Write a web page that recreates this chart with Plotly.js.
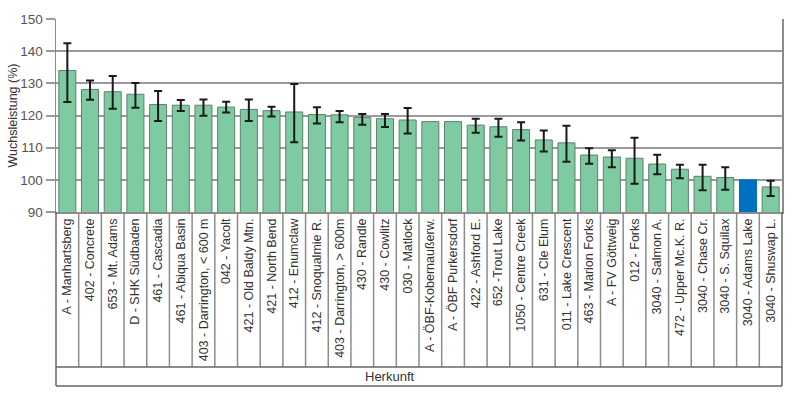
<!DOCTYPE html>
<html>
<head>
<meta charset="utf-8">
<script src="https://cdn.plot.ly/plotly-3.0.1.min.js"></script>
<style>html,body{margin:0;padding:0;background:#fff;}#chart{width:800px;height:398px;}</style>
</head>
<body>
<div id="chart"></div>
<script>
const categories = [
  "A - Manhartsberg", "402 - Concrete", "653 - Mt. Adams", "D - SHK Südbaden",
  "461 - Cascadia", "461 - Abiqua Basin", "403 - Darrington, < 600 m", "042 - Yacolt",
  "421 - Old Baldy Mtn.", "421 - North Bend", "412 - Enumclaw", "412 - Snoqualmie R.",
  "403 - Darrington, > 600m", "430 - Randle", "430 - Cowlitz", "030 - Matlock",
  "A - ÖBF-Kobernaußerw.", "A - ÖBF Purkersdorf", "422 - Ashford E.", "652 -Trout Lake",
  "1050 - Centre Creek", "631 - Cle Elum", "011 - Lake Crescent", "463 - Marion Forks",
  "A - FV Göttweig", "012 - Forks", "3040 - Salmon A.", "472 - Upper Mc.K. R.",
  "3040 - Chase Cr.", "3040 - S. Squilax", "3040 - Adams Lake", "3040 - Shuswap L."
];
const growth = [
  134.0, 128.1, 127.4, 126.6, 123.4, 123.2, 123.2, 122.6,
  121.9, 121.5, 121.1, 120.3, 120.2, 119.4, 119.0, 118.6,
  118.1, 118.1, 117.0, 116.5, 115.6, 112.4, 111.5, 107.7,
  107.1, 106.7, 104.9, 103.3, 101.1, 100.7, 100.0, 97.8
];
// NaN = no error bar shown for that origin
const errPlus = [
  8.5, 2.8, 4.9, 3.5, 4.2, 1.6, 1.8, 1.7,
  3.1, 1.2, 8.7, 2.3, 1.2, 1.1, 1.5, 3.7,
  NaN, NaN, 2.0, 2.5, 2.3, 2.9, 5.3, 2.1,
  2.1, 6.4, 2.9, 1.4, 3.6, 3.2, NaN, 1.9
];
const errMinus = [
  9.8, 3.2, 5.3, 4.2, 5.1, 1.8, 3.3, 1.7,
  3.6, 1.8, 9.4, 2.8, 2.3, 2.3, 2.6, 4.2,
  NaN, NaN, 2.4, 3.1, 3.4, 3.6, 5.9, 2.7,
  3.2, 7.9, 3.2, 2.8, 4.3, 3.8, NaN, 2.8
];
const referenceOrigin = "3040 - Adams Lake";

const GREEN = "#7ecba1", BLUE = "#0070c0";
const barColors = categories.map(c => c === referenceOrigin ? BLUE : GREEN);
const lineColors = categories.map(c => c === referenceOrigin ? BLUE : "#5f7f6f");

const trace = {
  type: "bar",
  x: categories,
  y: growth,
  marker: { color: barColors, line: { color: lineColors, width: 1 } },
  error_y: {
    type: "data", symmetric: false,
    array: errPlus, arrayminus: errMinus,
    color: "#1a1a1a", thickness: 2, width: 4
  },
  hoverinfo: "x+y"
};

const W = 800, H = 398, mL = 56, mR = 18, mT = 19, mB = 186;
const plotH = H - mT - mB;
const yTableBottom = -(367 - (H - mB)) / plotH;
const yBoxBottom = -(386 - (H - mB)) / plotH;
const n = categories.length;

const shapes = [];
for (let i = 0; i <= n; i++) {
  shapes.push({ type: "line", xref: "paper", yref: "paper", x0: i / n, x1: i / n, y0: 0, y1: yTableBottom,
    line: { color: (i === 0 || i === n) ? "#666" : "#8c8c8c", width: 1.5 } });
}
shapes.push({ type: "line", xref: "paper", yref: "paper", x0: 0, x1: 1, y0: yTableBottom, y1: yTableBottom, line: { color: "#666", width: 1.5 } });
shapes.push({ type: "line", xref: "paper", yref: "paper", x0: 0, x1: 0, y0: yTableBottom, y1: yBoxBottom, line: { color: "#666", width: 1.5 } });
shapes.push({ type: "line", xref: "paper", yref: "paper", x0: 1, x1: 1, y0: yTableBottom, y1: yBoxBottom, line: { color: "#666", width: 1.5 } });
shapes.push({ type: "line", xref: "paper", yref: "paper", x0: 0, x1: 1, y0: yBoxBottom, y1: yBoxBottom, line: { color: "#666", width: 1.5 } });

const layout = {
  width: W, height: H,
  margin: { l: mL, r: mR, t: mT, b: mB, pad: 0 },
  paper_bgcolor: "#fff", plot_bgcolor: "#fff",
  font: { family: "Liberation Sans, Arial, sans-serif", color: "#333", size: 12 },
  showlegend: false,
  bargap: 0.25,
  xaxis: {
    type: "category", range: [-0.5, n - 0.5],
    tickangle: -90, ticks: "", showgrid: false,
    showline: true, linecolor: "#8c8c8c", linewidth: 1.5, mirror: false,
    tickfont: { size: 12.5, color: "#333" }, automargin: false, fixedrange: true
  },
  yaxis: {
    range: [90, 150], tickvals: [90, 100, 110, 120, 130, 140, 150],
    ticks: "outside", ticklen: 9, tickcolor: "#9a9a9a", tickwidth: 2,
    showgrid: true, gridcolor: "#9a9a9a", gridwidth: 2,
    showline: true, linecolor: "#8c8c8c", linewidth: 1.5, mirror: true,
    zeroline: false,
    tickfont: { size: 13.5, color: "#555" },
    title: { text: "Wuchsleistung (%)", font: { size: 12.5, color: "#333" }, standoff: 0 },
    automargin: false, fixedrange: true
  },
  shapes: shapes,
  annotations: [{
    xref: "paper", yref: "paper", x: 0.46, y: (yTableBottom + yBoxBottom) / 2,
    text: "Herkunft", showarrow: false, xanchor: "center", yanchor: "middle",
    font: { size: 13, color: "#333" }
  }]
};

Plotly.newPlot("chart", [trace], layout, { displayModeBar: false, staticPlot: true });
</script>
</body>
</html>
